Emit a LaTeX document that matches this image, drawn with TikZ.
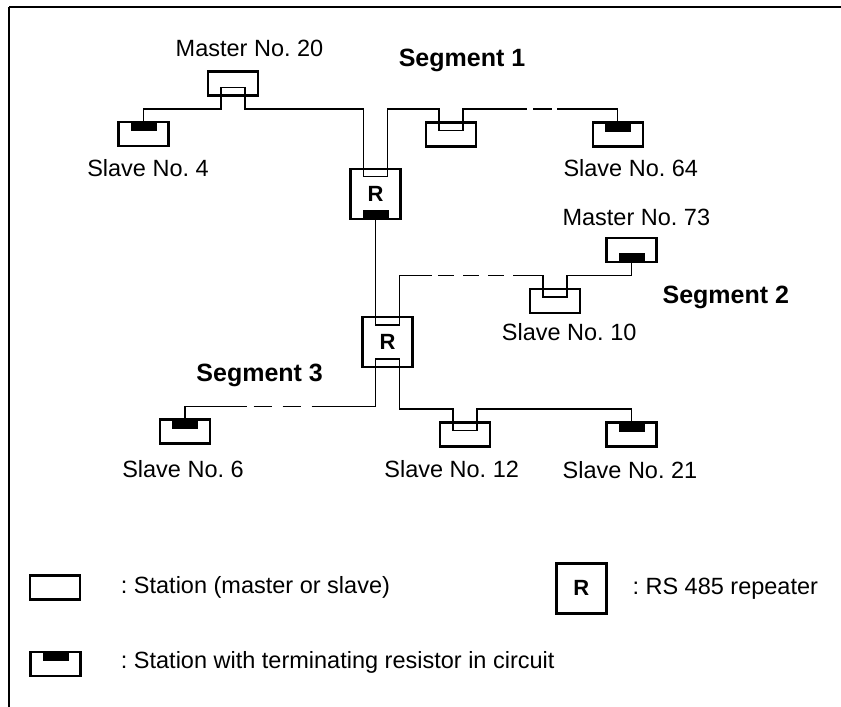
\documentclass[tikz,border=0pt]{standalone}
\usepackage{fontspec}
\setmainfont{Liberation Sans}
\usetikzlibrary{calc}
\frenchspacing
\tikzset{
  station/.style = {rectangle, draw, line width=2.6pt, minimum width=50pt,
                    minimum height=24pt, inner sep=0pt, outer sep=0pt},
  rep/.style     = {station, minimum height=50pt,
                    font=\fontsize{22}{24}\selectfont\bfseries},
  bus/.style     = {line width=1.3pt},
  lbl/.style     = {anchor=base, inner sep=0pt, font=\fontsize{23.5}{28}\selectfont},
  seg/.style     = {lbl, font=\fontsize{25}{28}\selectfont\bfseries},
  legtxt/.style  = {lbl, anchor=base west},
}
% socket corners of a station (open socket the bus runs through)
\newcommand{\socktop}[2]{\coordinate (#2l) at ($(#1.north)+(-12,8)$);
  \coordinate (#2r) at ($(#1.north)+(12,8)$);}
\newcommand{\sockbot}[2]{\coordinate (#2l) at ($(#1.south)+(-12,-8)$);
  \coordinate (#2r) at ($(#1.south)+(12,-8)$);}
% terminating resistor
\newcommand{\termtop}[1]{\fill ($(#1.north)+(-13,0)$) rectangle ($(#1.north)+(13,9)$);}
\newcommand{\termbot}[1]{\fill ($(#1.south)+(-13,0)$) rectangle ($(#1.south)+(13,-9)$);}

\begin{document}
\begin{tikzpicture}[x=1pt,y=-1pt]
  \useasboundingbox (0,0) rectangle (841,707);
  % frame
  \draw[line width=2pt] (841,7) -- (9,7);
  \draw[line width=1.3pt] (9,7) -- (9,707);

  % stations
  \node[station] (m20) at (233,83.7) {};
  \node[station] (s4)  at (143.5,134) {};
  \node[station] (s1x) at (451,134.7) {};
  \node[station] (s64) at (617.8,134.7) {};
  \node[rep]     (r1)  at (375.5,193.8) {R};
  \node[rep]     (r2)  at (387.5,342) {R};
  \node[station] (s10) at (555,301) {};
  \node[station] (m73) at (631.7,250) {};
  \node[station] (s6)  at (185,431.7) {};
  \node[station] (s12) at (465,434.5) {};
  \node[station] (s21) at (631.7,434.7) {};

  \sockbot{m20}{m20}
  \socktop{s1x}{s1x}
  \socktop{r1}{r1t}
  \socktop{r2}{r2t}
  \sockbot{r2}{r2b}
  \socktop{s10}{s10}
  \socktop{s12}{s12}
  \termtop{s4} \termtop{s64} \termbot{r1} \termbot{m73}
  \termtop{s6} \termtop{s21}

  % bus levels and breaks
  \coordinate (b1) at (0,109);
  \coordinate (b2) at (0,275.7);
  \coordinate (b3) at (0,406.7);
  \coordinate (b3r) at (0,409);
  \coordinate (d1a) at (527,109);   \coordinate (d1b) at (557,109);
  \coordinate (d2a) at (432,275.7); \coordinate (d2b) at (513,275.7);
  \coordinate (d3a) at (246.7,406.7); \coordinate (d3b) at (312,406.7);

  % segment 1
  \draw[bus] (s4.north) -- (s4.north |- b1) -| (m20l) -- (m20r)
    -- (m20r |- b1) -| (r1tl) -- (r1tr) -- (r1tr |- b1) -| (s1xl) -- (s1xr)
    -- (s1xr |- b1) -- (d1a);
  \draw[bus, dash pattern=on 19pt off 11pt, dash phase=24pt] (d1a) -- (d1b);
  \draw[bus] (d1b) -| (s64.north);

  % segment 2
  \draw[bus] (r1.south) -- (r2tl) -- (r2tr) -- (r2tr |- b2) -- (d2a);
  \draw[bus, dash pattern=on 16pt off 9pt, dash phase=19pt] (d2a) -- (d2b);
  \draw[bus] (d2b) -| (s10l) -- (s10r) -- (s10r |- b2) -| (m73.south);

  % segment 3
  \draw[bus] (s6.north) -- (s6.north |- b3) -- (d3a);
  \draw[bus, dash pattern=on 18pt off 11pt, dash phase=22pt] (d3a) -- (d3b);
  \draw[bus] (d3b) -| (r2bl) -- (r2br) -- (r2br |- b3r) -| (s12l) -- (s12r)
    -- (s12r |- b3r) -| (s21.north);

  % labels
  \node[lbl] (t20) at (249.5,56) {Master No. 20};
  \node[seg] (g1)  at (462,66) {Segment 1};
  \node[lbl] (t4)  at (148,176) {Slave No. 4};
  \node[lbl] (t64) at (630.8,176.7) {Slave No. 64};
  \node[lbl] (t73) at (636.3,225.7) {Master No. 73};
  \node[seg] (g2)  at (725.8,303.3) {Segment 2};
  \node[lbl] (t10) at (569.2,340) {Slave No. 10};
  \node[seg] (g3)  at (259.7,381.7) {Segment 3};
  \node[lbl] (t6)  at (183,477.3) {Slave No. 6};
  \node[lbl] (t12) at (451.7,477.3) {Slave No. 12};
  \node[lbl] (t21) at (630,478.3) {Slave No. 21};

  % legend
  \node[station] (ls) at (55,587.5) {};
  \node[station] (lt) at (55.5,664) {};
  \termtop{lt}
  \node[rep] (lr) at (581.3,588.2) {R};
  \node[legtxt] (lst) at (120.7,593) {: Station (master or slave)};
  \node[legtxt] (lrt) at (632.3,594.3) {: RS 485 repeater};
  \node[legtxt] (ltt) at (120.7,668.3) {: Station with terminating resistor in circuit};
\end{tikzpicture}
\end{document}
